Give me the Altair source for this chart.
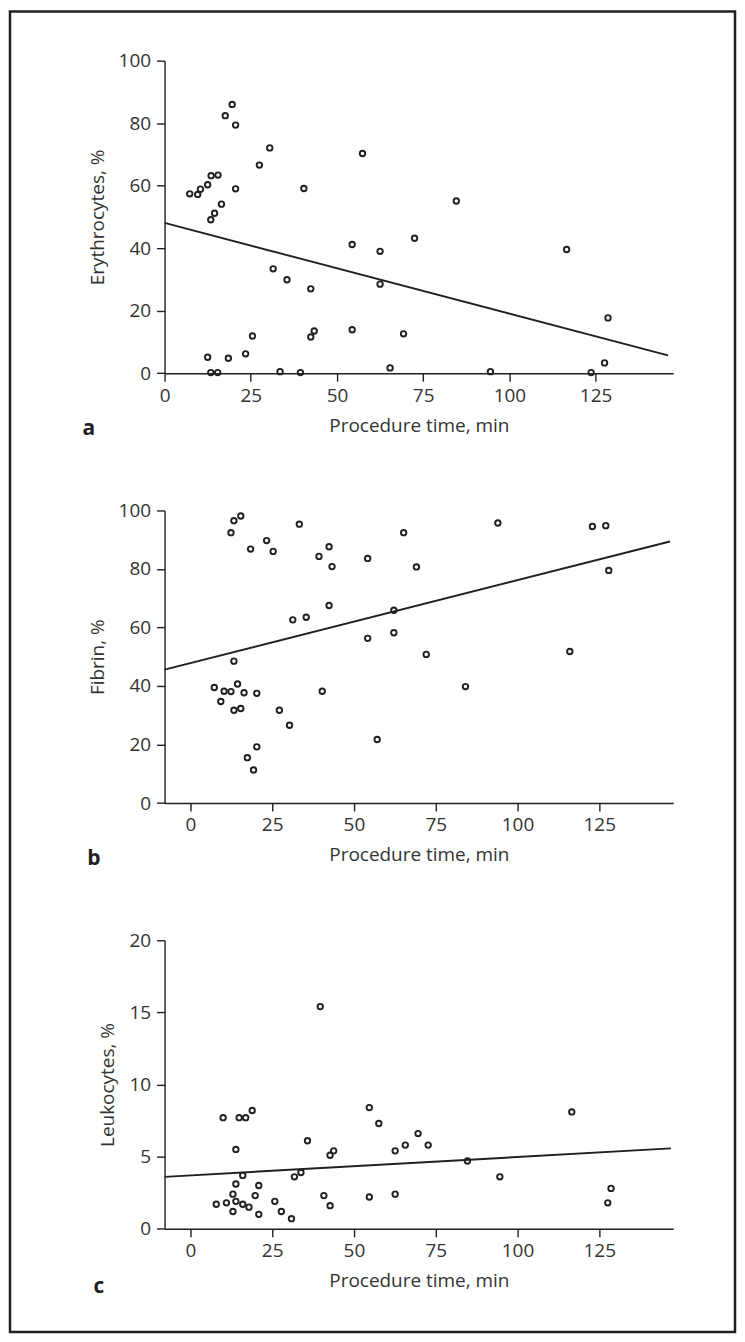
import altair as alt
import pandas as pd

# ---- data ----
ery_x = [7.3, 9.6, 10.4, 12.5, 13.5, 15.5, 13.4, 14.5, 16.5, 17.6, 19.6, 20.6, 20.6,
         27.5, 30.5, 31.5, 35.5, 40.4, 42.4, 42.4, 43.4, 54.4, 54.4, 57.4, 62.5, 62.5,
         65.4, 12.5, 13.4, 15.4, 18.5, 23.5, 25.5, 33.5, 39.4, 69.3, 72.5, 84.6, 94.5,
         116.6, 128.6, 127.6, 123.7]
ery_y = [57.4, 57.2, 58.9, 60.3, 63.2, 63.4, 49.1, 51.2, 54.1, 82.4, 86.0, 79.4, 59.0,
         66.6, 72.1, 33.4, 29.9, 59.1, 27.0, 11.6, 13.5, 41.2, 13.9, 70.3, 39.0, 28.5,
         1.7, 5.1, 0.2, 0.2, 4.8, 6.2, 11.9, 0.5, 0.2, 12.6, 43.2, 55.1, 0.5,
         39.6, 17.7, 3.3, 0.2]

fib_x = [12.4, 13.3, 15.4, 18.4, 23.3, 25.3, 33.3, 39.3, 42.4, 43.3, 42.4, 31.3, 35.4,
         13.3, 7.3, 9.3, 10.3, 12.4, 14.4, 16.4, 20.3, 13.3, 15.4, 27.2, 30.3, 40.3,
         17.4, 20.3, 19.3, 54.2, 54.2, 57.1, 62.2, 62.2, 65.2, 69.1, 72.1, 84.1, 94.0,
         116.0, 122.9, 127.0, 127.9]
fib_y = [92.4, 96.5, 98.1, 86.8, 89.7, 86.0, 95.3, 84.3, 87.6, 80.8, 67.5, 62.6, 63.5,
         48.5, 39.5, 34.7, 38.2, 38.1, 40.7, 37.7, 37.5, 31.7, 32.3, 31.7, 26.6, 38.2,
         15.5, 19.2, 11.3, 83.6, 56.3, 21.7, 65.9, 58.2, 92.4, 80.7, 50.8, 39.8, 95.7,
         51.8, 94.5, 94.8, 79.5]

leu_x = [7.9, 10.0, 11.0, 13.0, 13.0, 13.9, 13.9, 13.9, 14.9, 16.0, 16.0, 16.9, 17.9,
         18.9, 19.8, 20.9, 20.9, 25.8, 27.8, 30.9, 31.8, 33.8, 35.8, 39.7, 40.8, 42.7,
         43.8, 42.7, 54.7, 54.7, 57.6, 62.6, 62.6, 65.7, 69.6, 72.7, 84.7, 94.6, 116.6,
         127.6, 128.6]
leu_y = [1.7, 7.7, 1.8, 2.4, 1.2, 5.5, 3.1, 1.9, 7.7, 3.7, 1.7, 7.7, 1.5,
         8.2, 2.3, 3.0, 1.0, 1.9, 1.2, 0.7, 3.6, 3.9, 6.1, 15.4, 2.3, 5.1,
         5.4, 1.6, 8.4, 2.2, 7.3, 5.4, 2.4, 5.8, 6.6, 5.8, 4.7, 3.6, 8.1,
         1.8, 2.8]

# regression line end points
ery_fit_x = [0.0, 146.0]
ery_fit_y = [48.1, 5.7]
fib_fit_x = [-7.9, 146.6]
fib_fit_y = [45.6, 89.4]
leu_fit_x = [-7.9, 146.9]
leu_fit_y = [3.6, 5.57]

x_ticks = [0, 25, 50, 75, 100, 125]
pct_ticks = [0, 20, 40, 60, 80, 100]
leu_ticks = [0, 5, 10, 15, 20]

FONT = "Open Sans"
INK = "#231f20"
TXT = "#333333"


def panel(xs, ys, fx, fy, ytitle, xdom, ydom, yticks, h, label, lab_dx, lab_dy, frame=False):
    pts = pd.DataFrame({"t": xs, "v": ys})
    fit = pd.DataFrame({"t": fx, "v": fy})
    xsc = alt.Scale(domain=xdom, nice=False, zero=False)
    ysc = alt.Scale(domain=ydom, nice=False, zero=False)
    xax = alt.Axis(values=x_ticks, title="Procedure time, min", grid=False,
                   tickSize=8, labelPadding=5, titlePadding=11, labelFlush=False,
                   format="d")
    yax = alt.Axis(values=yticks, title=ytitle, grid=False, tickSize=8,
                   labelPadding=6, titlePadding=11, labelFlush=False, format="d")
    line = alt.Chart(fit).mark_line(color=INK, strokeWidth=1.9).encode(
        x=alt.X("t:Q", scale=xsc, axis=xax),
        y=alt.Y("v:Q", scale=ysc, axis=yax),
    )
    points = alt.Chart(pts).mark_point(
        shape="circle", filled=False, size=30, strokeWidth=1.9, color=INK, opacity=1
    ).encode(
        x=alt.X("t:Q", scale=xsc, axis=xax),
        y=alt.Y("v:Q", scale=ysc, axis=yax),
    )
    lab = alt.Chart(pd.DataFrame({"s": [label]})).mark_text(
        font=FONT, fontSize=21, fontWeight="bold", color=INK,
        align="center", baseline="middle"
    ).encode(text="s:N", x=alt.value(lab_dx), y=alt.value(lab_dy))
    layers = [line, points, lab]
    if frame:
        fr = alt.Chart(pd.DataFrame({"k": [0]})).mark_rect(
            fillOpacity=0, stroke=INK, strokeWidth=2.5
        ).encode(x=alt.value(-155), x2=alt.value(572),
                 y=alt.value(-49.3), y2=alt.value(1274.7))
        layers.append(fr)
    return alt.layer(*layers).properties(width=510, height=h)


pa = panel(ery_x, ery_y, ery_fit_x, ery_fit_y, "Erythrocytes, %", [0, 147.5], [0, 100],
           pct_ticks, 313.4, "a", -76, 369.7, frame=True)
pb = panel(fib_x, fib_y, fib_fit_x, fib_fit_y, "Fibrin, %", [-7.9, 147.6], [0, 100],
           pct_ticks, 293.4, "b", -71, 350)
pc = panel(leu_x, leu_y, leu_fit_x, leu_fit_y, "Leukocytes, %", [-7.9, 147.6], [0, 20],
           leu_ticks, 289.3, "c", -66, 348)

chart = alt.vconcat(pa, pb, pc, spacing=137, bounds="flush").properties(
    padding=0, background="white"
).configure_view(strokeWidth=0).configure_axis(
    domainColor=INK, tickColor=INK, domainWidth=1.4, tickWidth=1.4,
    labelFont=FONT, titleFont=FONT, labelFontSize=19, titleFontSize=19,
    labelColor=TXT, titleColor=TXT, titleFontWeight="normal"
)

chart.save("out.html", embed_options={"renderer": "svg", "actions": False})
